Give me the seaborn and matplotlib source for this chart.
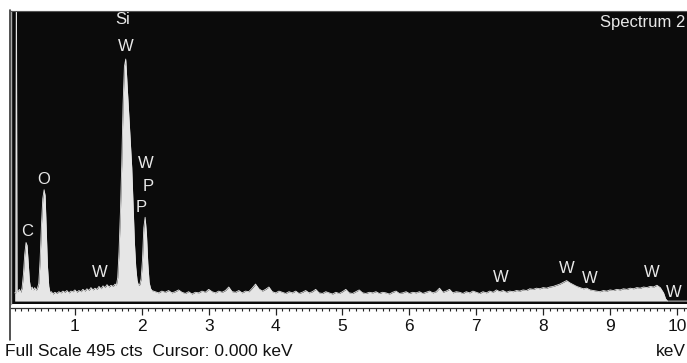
import numpy as np
import pandas as pd
import matplotlib
matplotlib.use("Agg")
import matplotlib.pyplot as plt
from matplotlib.lines import Line2D
import seaborn as sns

# =========================
# SPECTRUM DATA
# =========================

energy_kev = [
    0.10, 0.115, 0.125, 0.135, 0.15, 0.17, 0.19, 0.21, 0.23, 0.25,
    0.27, 0.285, 0.30, 0.32, 0.34, 0.36, 0.38, 0.40, 0.42, 0.44,
    0.46, 0.48, 0.50, 0.52, 0.54, 0.555, 0.57, 0.59, 0.61, 0.63,
    0.65, 0.67, 0.70, 0.73, 0.76, 0.79, 0.82, 0.85, 0.88, 0.91,
    0.94, 0.97, 1.00, 1.03, 1.06, 1.09, 1.12, 1.15, 1.18, 1.21,
    1.24, 1.27, 1.30, 1.33, 1.36, 1.39, 1.42, 1.45, 1.48, 1.51,
    1.54, 1.57, 1.60, 1.62, 1.64, 1.66, 1.68, 1.70, 1.72, 1.74,
    1.76, 1.78, 1.80, 1.82, 1.85, 1.87, 1.89, 1.91, 1.93, 1.95,
    1.97, 1.99, 2.01, 2.03, 2.05, 2.07, 2.09, 2.11, 2.13, 2.15,
    2.20, 2.25, 2.30, 2.35, 2.40, 2.45, 2.50, 2.55, 2.60, 2.65,
    2.70, 2.75, 2.80, 2.85, 2.90, 2.95, 3.00, 3.05, 3.10, 3.15,
    3.20, 3.25, 3.30, 3.35, 3.40, 3.45, 3.50, 3.55, 3.60, 3.65,
    3.70, 3.75, 3.80, 3.85, 3.90, 3.95, 4.00, 4.05, 4.10, 4.15,
    4.20, 4.25, 4.30, 4.35, 4.40, 4.45, 4.50, 4.55, 4.60, 4.65,
    4.70, 4.75, 4.80, 4.85, 4.90, 4.95, 5.00, 5.05, 5.10, 5.15,
    5.20, 5.25, 5.30, 5.35, 5.40, 5.45, 5.50, 5.55, 5.60, 5.65,
    5.70, 5.75, 5.80, 5.85, 5.90, 5.95, 6.00, 6.05, 6.10, 6.15,
    6.20, 6.25, 6.30, 6.35, 6.40, 6.45, 6.50, 6.55, 6.60, 6.65,
    6.70, 6.75, 6.80, 6.85, 6.90, 6.95, 7.00, 7.05, 7.10, 7.15,
    7.20, 7.25, 7.30, 7.35, 7.40, 7.45, 7.50, 7.55, 7.60, 7.65,
    7.70, 7.75, 7.80, 7.85, 7.90, 7.95, 8.00, 8.05, 8.10, 8.15,
    8.20, 8.25, 8.30, 8.35, 8.40, 8.45, 8.50, 8.55, 8.60, 8.65,
    8.70, 8.75, 8.80, 8.85, 8.90, 8.95, 9.00, 9.05, 9.10, 9.15,
    9.20, 9.25, 9.30, 9.35, 9.40, 9.45, 9.50, 9.55, 9.60, 9.65,
    9.70, 9.75, 9.80, 9.83, 9.86, 10.15,
]

counts = [
    14, 14, 600, 18, 16, 20, 15, 22, 45, 80,
    100, 95, 70, 35, 20, 24, 19, 23, 18, 22,
    30, 70, 130, 175, 190, 180, 130, 60, 25, 14,
    16, 12, 15, 13, 16, 14, 17, 15, 18, 14,
    17, 16, 19, 15, 18, 16, 20, 17, 21, 18,
    23, 19, 22, 20, 25, 21, 26, 23, 28, 24,
    27, 25, 29, 27, 40, 85, 150, 232, 335, 400,
    413, 370, 330, 290, 228, 165, 100, 58, 35, 27,
    28, 38, 70, 125, 143, 115, 65, 32, 22, 18,
    16, 14, 17, 15, 18, 14, 16, 19, 15, 13,
    16, 12, 15, 14, 17, 15, 20, 16, 14, 17,
    15, 18, 24, 16, 15, 18, 14, 17, 16, 22,
    29, 21, 17, 20, 24, 16, 14, 17, 15, 13,
    16, 14, 17, 13, 15, 18, 14, 16, 20, 14,
    13, 16, 14, 12, 15, 13, 16, 20, 14, 13,
    16, 19, 14, 13, 15, 14, 16, 13, 15, 14,
    12, 15, 17, 13, 14, 16, 13, 15, 14, 16,
    13, 15, 17, 14, 16, 22, 15, 17, 20, 14,
    16, 15, 13, 16, 14, 17, 15, 13, 16, 14,
    17, 15, 19, 16, 18, 15, 17, 16, 18, 17,
    19, 18, 21, 20, 22, 21, 23, 22, 24, 25,
    27, 29, 32, 35, 31, 28, 25, 23, 21, 22,
    19, 18, 17, 16, 18, 17, 19, 18, 20, 19,
    21, 20, 22, 21, 23, 22, 24, 23, 25, 24,
    27, 23, 14, 4, 0, 0,
]

# peak labels: (energy, counts, text)
label_keV = [1.72, 1.76, 0.54, 0.28, 1.375, 2.06, 2.10, 1.99, 7.37, 8.36, 8.70, 9.63, 9.96]
label_cts = [480, 435, 208, 119, 48, 234, 196, 160, 41, 55, 39, 49, 15]
label_txt = ["Si", "W", "O", "C", "W", "W", "P", "P", "W", "W", "W", "W", "W"]

major_ticks = [1, 2, 3, 4, 5, 6, 7, 8, 9, 10]
full_scale = 495

df = pd.DataFrame({"energy": energy_kev, "counts": counts})

# =========================
# PLOT
# =========================

sns.set_theme(style="white")
plt.rcParams["font.family"] = ["Liberation Sans", "DejaVu Sans"]

fig = plt.figure(figsize=(6.87, 3.63), dpi=100)
ax = fig.add_axes([11 / 687, (363 - 304) / 363, 676 / 687, 293 / 363])
ax.set_facecolor("#0b0b0b")

ax.fill_between(df["energy"], 0, df["counts"], color="#e6e6e6", linewidth=0)
sns.lineplot(data=df, x="energy", y="counts", ax=ax, color="#e6e6e6", linewidth=0.6)

ax.set_xlim(0.045, 10.15)
ax.set_ylim(-5, full_scale)
ax.set_xlabel("")
ax.set_ylabel("")
ax.set_yticks([])

ax.set_xticks(major_ticks)
ax.set_xticklabels([str(t) for t in major_ticks])
minor = [i / 10 for i in range(1, 102) if i % 10 != 0]
ax.set_xticks(minor, minor=True)
ax.tick_params(axis="x", which="major", direction="out", length=5, width=0.9,
               color="#222222", pad=3, labelsize=12.5, labelcolor="#111111", bottom=True)
ax.tick_params(axis="x", which="minor", direction="out", length=2.2, width=0.8,
               color="#222222", bottom=True)

ax.spines["bottom"].set_position(("outward", 3))
ax.spines["bottom"].set_color("#333333")
ax.spines["bottom"].set_linewidth(0.9)
ax.spines["top"].set_color("#555555")
ax.spines["top"].set_linewidth(0.8)
ax.spines["left"].set_color("#aaaaaa")
ax.spines["left"].set_linewidth(1.0)
ax.spines["right"].set_visible(False)

for x, y, s in zip(label_keV, label_cts, label_txt):
    ax.text(x, y, s, ha="center", va="center", color="#e8e8e8", fontsize=12)

ax.text(0.997, 0.962, "Spectrum 2", transform=ax.transAxes, ha="right", va="center",
        color="#e8e8e8", fontsize=12)

# window frame line on the left
fig.add_artist(Line2D([9.5 / 687, 9.5 / 687], [1 - 10 / 363, 1 - 340 / 363],
                      color="#333333", linewidth=1.2))

fig.text(5 / 687, 1 - 351 / 363, "Full Scale %d cts  Cursor: 0.000 keV" % full_scale,
         ha="left", va="center", fontsize=12.5, color="#111111")
fig.text(686 / 687, 1 - 351 / 363, "keV", ha="right", va="center", fontsize=12.5,
         color="#111111")

fig.savefig("out.png", dpi=100, facecolor="white")
